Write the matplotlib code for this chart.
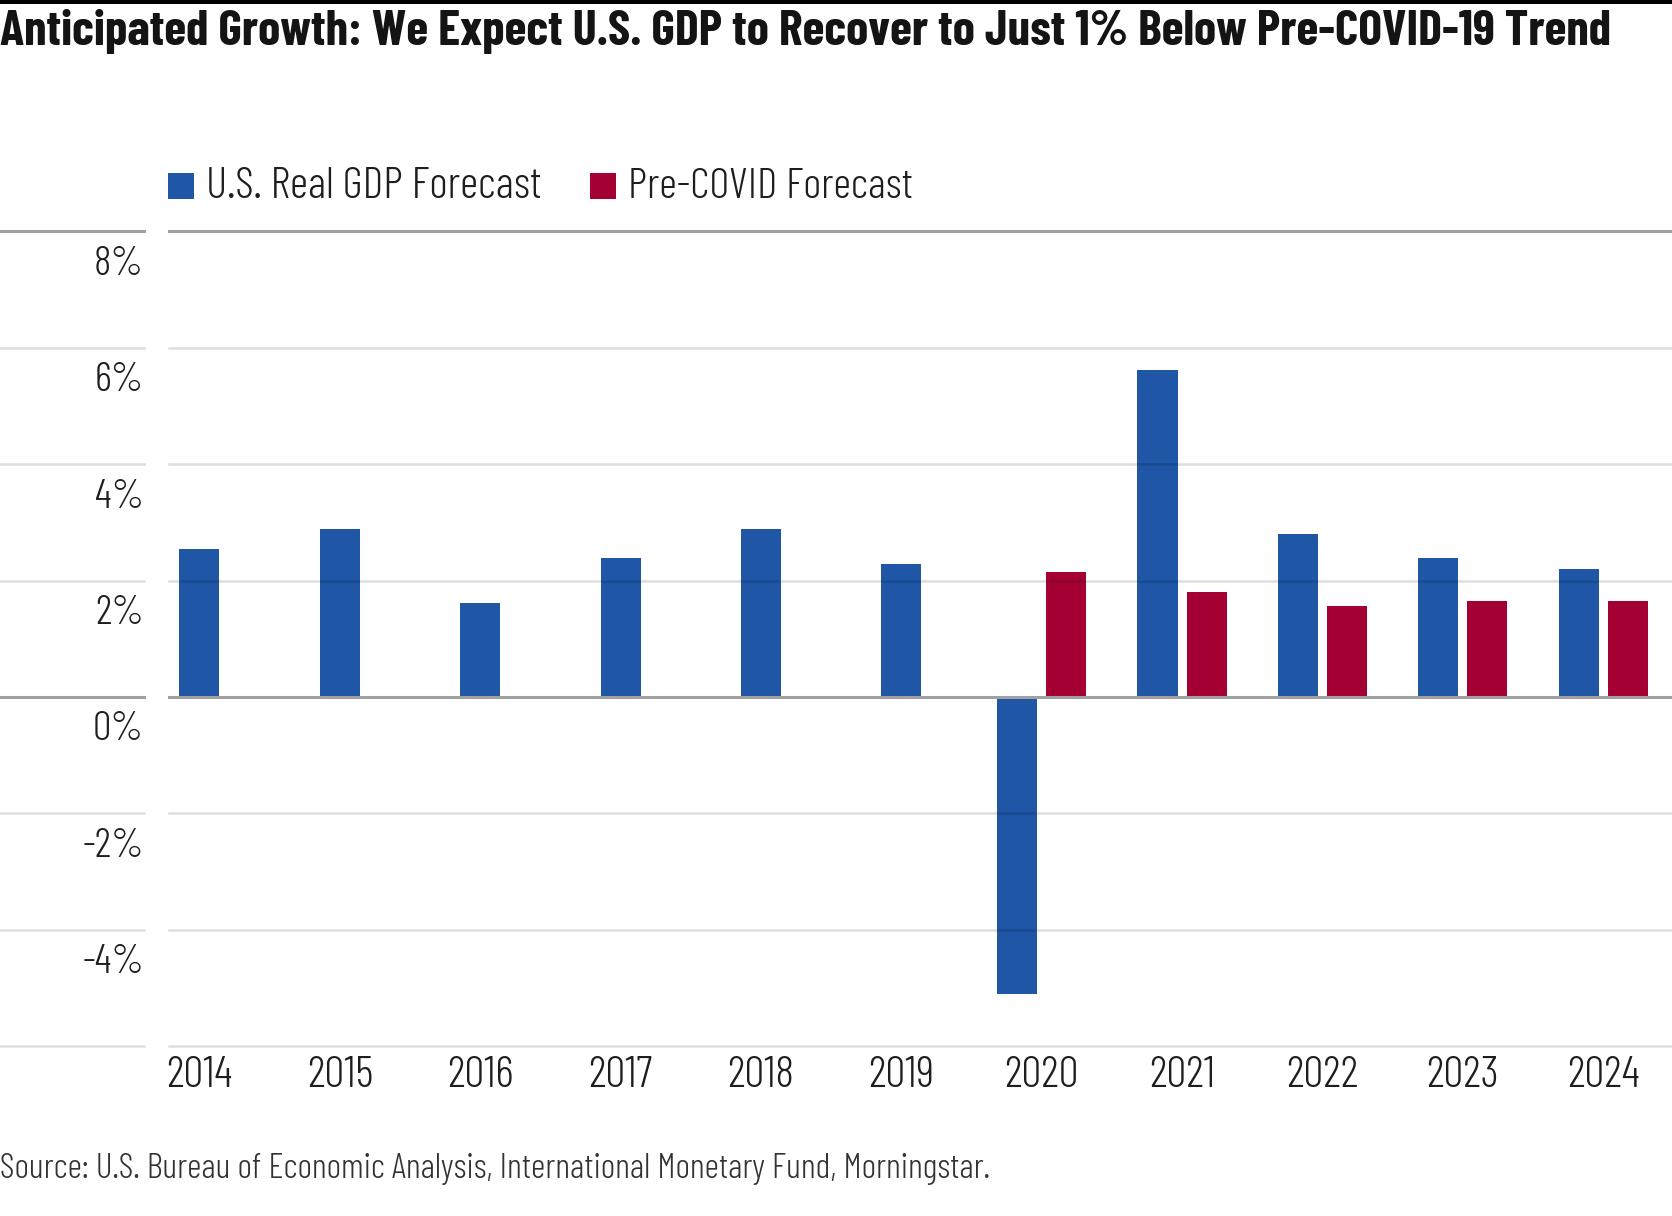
import numpy as np
import matplotlib
matplotlib.use("Agg")
import matplotlib.pyplot as plt
from matplotlib.lines import Line2D
from matplotlib.patches import Rectangle
import matplotlib.transforms as mtransforms

# ---- data ----
years = ["2014", "2015", "2016", "2017", "2018", "2019", "2020", "2021", "2022", "2023", "2024"]
us_gdp = [2.54, 2.89, 1.61, 2.38, 2.89, 2.29, -5.11, 5.62, 2.80, 2.38, 2.20]
pre_covid = [np.nan, np.nan, np.nan, np.nan, np.nan, np.nan, 2.14, 1.81, 1.56, 1.65, 1.65]
y_ticks = [-6, -4, -2, 0, 2, 4, 6, 8]
y_labels = ["", "-4%", "-2%", "0%", "2%", "4%", "6%", "8%"]
series_names = ["U.S. Real GDP Forecast", "Pre-COVID Forecast"]
title = "Anticipated Growth: We Expect U.S. GDP to Recover to Just 1% Below Pre-COVID-19 Trend"
source = "Source: U.S. Bureau of Economic Analysis, International Monetary Fund, Morningstar."

BLUE = "#1f56a5"
RED = "#a50034"
FONT = ["Barlow Condensed", "Roboto Condensed", "DejaVu Sans"]
TXT = "#1e1e1e"

W, H = 1672, 1216
fig = plt.figure(figsize=(W / 100, H / 100), dpi=100)
renderer = fig.canvas.get_renderer()


def fit(t, target_w):
    bb = t.get_window_extent(renderer=renderer)
    t.set_fontsize(t.get_fontsize() * target_w / bb.width)


def px_y(y):
    return 1 - y / H


left = 168.5 / W
right = 1.0
bottom = px_y(1046)
top = px_y(231.4)
ax = fig.add_axes([left, bottom, right - left, top - bottom])

x = np.arange(len(years))
gdp = np.array(us_gdp)
pre = np.array(pre_covid)
has_pre = ~np.isnan(pre)
off = 0.175
w = 0.285
xb = np.where(has_pre, x - off, x)
xr = x + off
ax.bar(xb, gdp, width=w, color=BLUE, zorder=2)
ax.bar(xr[has_pre], pre[has_pre], width=w, color=RED, zorder=2)

ax.set_xlim(-0.22, 10.49)
ax.set_ylim(-6, 8)
for s in ax.spines.values():
    s.set_visible(False)
ax.set_yticks([])
ax.set_xticks([])

# gridlines (main axis area and left stubs)
blend = mtransforms.blended_transform_factory(fig.transFigure, ax.transData)
for yv in y_ticks:
    if yv in (0, 8):
        col, lw = "#a0a0a0", 2.2
    else:
        col, lw = (0, 0, 0, 0.13), 1.8
    ax.axhline(yv, color=col, lw=lw, zorder=3, clip_on=False)
    fig.add_artist(Line2D([0, 144 / W], [yv, yv], transform=blend, color=col, lw=lw))

# x labels: baseline 41 px below axes bottom
xlab_tr = mtransforms.blended_transform_factory(ax.transData, ax.transAxes) + \
    mtransforms.ScaledTranslation(0, -0.41, fig.dpi_scale_trans)
xl = []
for xi, lab in zip(x, years):
    xl.append(ax.text(xi, 0, lab, transform=xlab_tr, ha="center", va="baseline",
                      fontsize=30, family=FONT, fontweight=300, color=TXT))
fit(xl[0], 66)
xsize = xl[0].get_fontsize()
for t in xl[1:]:
    t.set_fontsize(xsize)

# y labels below gridlines (baseline ~43.6 px under line)
ylab_tr = blend + mtransforms.ScaledTranslation(0, -0.436, fig.dpi_scale_trans)
for yv, lab in zip(y_ticks, y_labels):
    if lab:
        ax.text(144 / W, yv, lab, transform=ylab_tr, ha="right", va="baseline",
                fontsize=xsize * 0.93, family=FONT, fontweight=300, color=TXT)

# top black rule
fig.add_artist(Rectangle((0, px_y(4)), 1, 4 / H, transform=fig.transFigure,
                         color="black", lw=0))

# title
tt = fig.text(0, px_y(45), title, ha="left", va="baseline", fontsize=33,
              fontweight=700, family=FONT, color="#141414")
fit(tt, 1612)

# legend
for (sx, tx, tw, col, name) in [(168, 206, 335, BLUE, series_names[0]),
                                (590, 628, 285, RED, series_names[1])]:
    fig.add_artist(Rectangle((sx / W, px_y(199)), 26 / W, 26 / H,
                             transform=fig.transFigure, color=col, lw=0))
    lt = fig.text(tx / W, px_y(198), name, ha="left", va="baseline", fontsize=28,
                  family=FONT, fontweight=300, color=TXT)
    fit(lt, tw)

# source
st = fig.text(0, px_y(1178), source, ha="left", va="baseline", fontsize=23,
              family=FONT, fontweight=300, color="#333333")
fit(st, 990)

fig.savefig("out.png", dpi=100)
